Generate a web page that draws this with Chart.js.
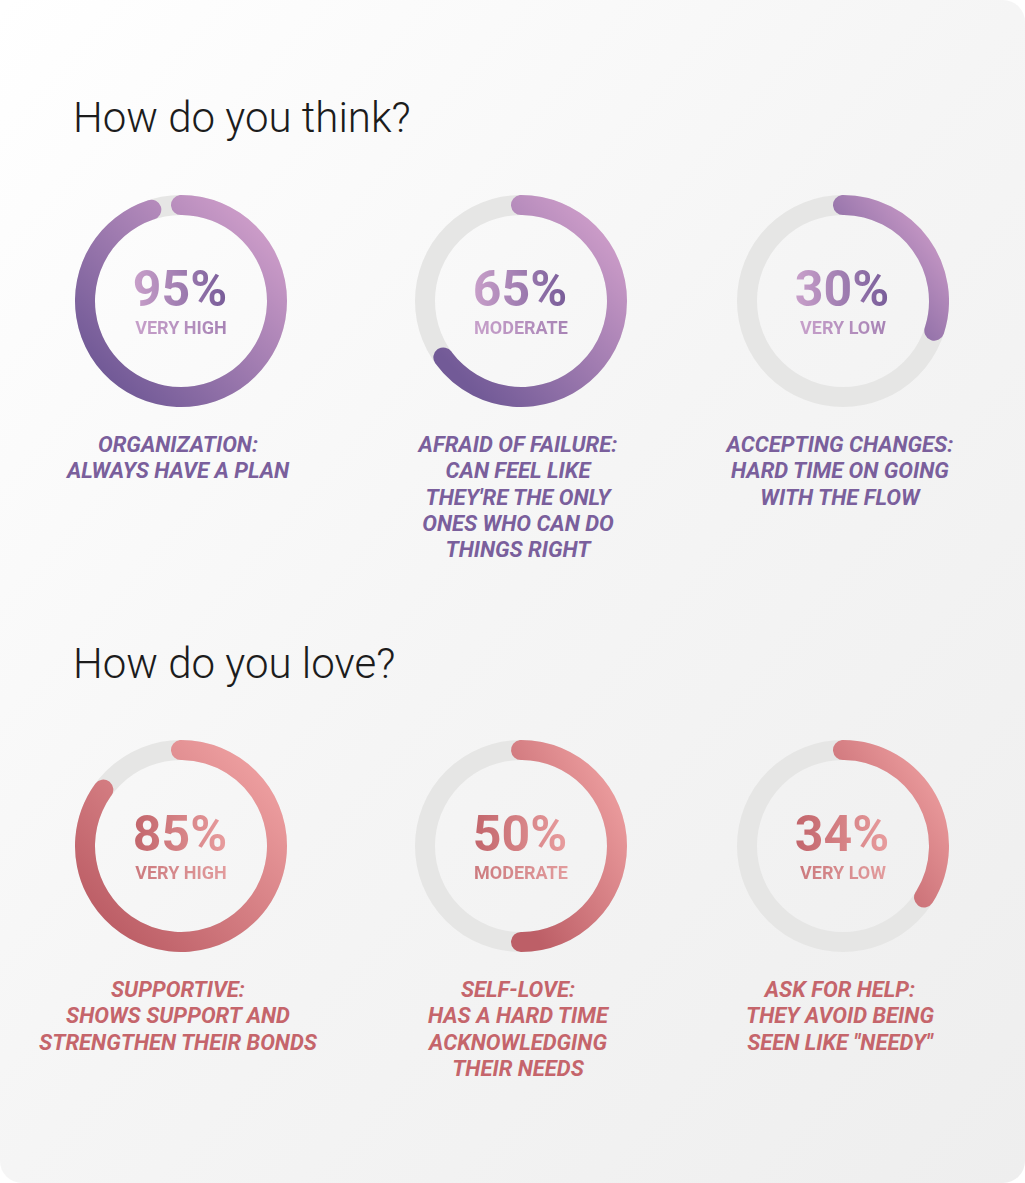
<!DOCTYPE html>
<html><head><meta charset="utf-8">
<script src="https://cdn.jsdelivr.net/npm/chart.js@4.4.1/dist/chart.umd.min.js"></script>
<style>
html,body{margin:0;padding:0;background:#ffffff;}
#card{position:absolute;left:0;top:0;width:1025px;height:1183px;border-radius:22px;overflow:hidden;
  background:linear-gradient(to bottom right,#ffffff 0%,#f5f5f5 50%,#eeeeee 100%);
  font-family:Roboto,"Noto Sans",sans-serif;}
.title{position:absolute;left:73px;font-weight:300;font-size:42px;line-height:50px;color:#1c1c1c;white-space:nowrap;}
.chartbox{position:absolute;width:212px;height:212px;}
.chartbox canvas{display:block;}
.pct{position:absolute;width:240px;text-align:center;font-weight:700;font-size:50px;line-height:50px;white-space:nowrap;}
.lvl{position:absolute;width:240px;text-align:center;font-weight:700;font-size:18px;line-height:18px;white-space:nowrap;}
.cap{position:absolute;width:340px;text-align:center;font-weight:700;font-style:italic;font-size:22px;line-height:26.25px;white-space:nowrap;}
.grad{display:inline-block;-webkit-background-clip:text;background-clip:text;color:transparent;}
</style>
</head>
<body>
<div id="card"></div>
<script>
// ---- data ----
const sectionTitles = ["How do you think?", "How do you love?"];
const values = [95, 65, 30, 85, 50, 34];
const levelLabels = ["VERY HIGH", "MODERATE", "VERY LOW", "VERY HIGH", "MODERATE", "VERY LOW"];
const captions = [
  ["ORGANIZATION:", "ALWAYS HAVE A PLAN"],
  ["AFRAID OF FAILURE:", "CAN FEEL LIKE", "THEY'RE THE ONLY", "ONES WHO CAN DO", "THINGS RIGHT"],
  ["ACCEPTING CHANGES:", "HARD TIME ON GOING", "WITH THE FLOW"],
  ["SUPPORTIVE:", "SHOWS SUPPORT AND", "STRENGTHEN THEIR BONDS"],
  ["SELF-LOVE:", "HAS A HARD TIME", "ACKNOWLEDGING", "THEIR NEEDS"],
  ["ASK FOR HELP:", "THEY AVOID BEING", "SEEN LIKE \"NEEDY\""]
];
const sectionOf = [0, 0, 0, 1, 1, 1];

// ---- styles / layout ----
const palettes = [
  {dark:'#725a97', light:'#dea9d2', caption:'#7a5f9c', numFrom:'#c9a0ca', numTo:'#785c99', lvlFrom:'#c7a0ca', lvlTo:'#a783b5'},
  {dark:'#bd5f67', light:'#f6aaaa', caption:'#c5656b', numFrom:'#c2656b', numTo:'#e89d9e', lvlFrom:'#cc7a7e', lvlTo:'#e29c9d'}
];
const trackColor = '#e6e6e5';
const colX = [181, 521, 843];
const rowY = [301, 846];
const titleTop = [92.6, 638.5];
const THICK = 20, SIZE = 212;

const card = document.getElementById('card');
sectionTitles.forEach((t, i) => {
  const d = document.createElement('div');
  d.className = 'title'; d.style.top = titleTop[i] + 'px'; d.textContent = t;
  card.appendChild(d);
});

const trackPlugin = {
  id: 'track',
  beforeDatasetsDraw(chart) {
    const el = chart.getDatasetMeta(0).data[0];
    if (!el) return;
    const {x, y, innerRadius, outerRadius} = el.getProps(['x','y','innerRadius','outerRadius'], true);
    const ctx = chart.ctx;
    ctx.save();
    ctx.beginPath();
    ctx.arc(x, y, (innerRadius + outerRadius) / 2, 0, Math.PI * 2);
    ctx.lineWidth = outerRadius - innerRadius;
    ctx.strokeStyle = trackColor;
    ctx.stroke();
    ctx.restore();
  }
};

function arcGradient(chart, v, capDeg, pal) {
  const a = chart.chartArea;
  if (!a) return pal.dark;
  if (chart.$grad) return chart.$grad;
  const cx = (a.left + a.right) / 2, cy = (a.top + a.bottom) / 2;
  const R = Math.min(a.right - a.left, a.bottom - a.top) / 2, r = R - THICK;
  let minX = 1e9, minY = 1e9, maxX = -1e9, maxY = -1e9;
  const s = -90 - capDeg, e = -90 + v * 3.6 + capDeg;
  for (let d = s; d <= e; d += 0.5) {
    const t = d * Math.PI / 180;
    [R, r].forEach(rr => {
      const px = cx + rr * Math.cos(t), py = cy + rr * Math.sin(t);
      minX = Math.min(minX, px); maxX = Math.max(maxX, px);
      minY = Math.min(minY, py); maxY = Math.max(maxY, py);
    });
  }
  const w = maxX - minX, h = maxY - minY;
  const gx = 1 / (2 * w), gy = -1 / (2 * h), g2 = gx * gx + gy * gy;
  const p0x = minX, p0y = maxY;
  const grad = chart.ctx.createLinearGradient(p0x, p0y, p0x + gx / g2, p0y + gy / g2);
  grad.addColorStop(0, pal.dark);
  grad.addColorStop(0.15, pal.dark);
  grad.addColorStop(1, pal.light);
  chart.$grad = grad;
  return grad;
}

values.forEach((v, i) => {
  const pal = palettes[sectionOf[i]];
  const cx = colX[i % 3], cy = rowY[sectionOf[i]];
  const box = document.createElement('div');
  box.className = 'chartbox';
  box.style.left = (cx - SIZE / 2) + 'px';
  box.style.top = (cy - SIZE / 2) + 'px';
  const cv = document.createElement('canvas');
  cv.width = SIZE; cv.height = SIZE;
  cv.style.width = SIZE + 'px'; cv.style.height = SIZE + 'px';
  box.appendChild(cv);
  card.appendChild(box);

  const rMid = SIZE / 2 - THICK / 2;
  const capDeg = (THICK / 2) / rMid * 180 / Math.PI;
  const arcDeg = v * 3.6 + 2 * capDeg;

  new Chart(cv, {
    type: 'doughnut',
    data: {
      labels: ['score', 'rest'],
      datasets: [{
        data: [v, 100 - v],
        backgroundColor: (c) => c.dataIndex === 0 ? arcGradient(c.chart, v, capDeg, pal) : 'rgba(0,0,0,0)',
        borderWidth: 0,
        borderRadius: (c) => c.dataIndex === 0 ? THICK / 2 : 0,
        offset: 0,
        hoverOffset: 0
      }]
    },
    options: {
      responsive: false,
      animation: false,
      events: [],
      cutout: SIZE / 2 - THICK,
      rotation: -capDeg,
      circumference: arcDeg * 100 / v,
      layout: {padding: 0},
      plugins: {legend: {display: false}, tooltip: {enabled: false}}
    },
    plugins: [trackPlugin]
  });

  const pct = document.createElement('div');
  pct.className = 'pct';
  pct.style.left = (cx - 121) + 'px';
  pct.style.top = (cy - 37) + 'px';
  const ps = document.createElement('span');
  ps.className = 'grad';
  ps.style.backgroundImage = `linear-gradient(to right, ${pal.numFrom}, ${pal.numTo})`;
  ps.textContent = v + '%';
  pct.appendChild(ps);
  card.appendChild(pct);

  const lvl = document.createElement('div');
  lvl.className = 'lvl';
  lvl.style.left = (cx - 120) + 'px';
  lvl.style.top = (cy + 17.6) + 'px';
  const ls = document.createElement('span');
  ls.className = 'grad';
  ls.style.backgroundImage = `linear-gradient(to right, ${pal.lvlFrom}, ${pal.lvlTo})`;
  ls.textContent = levelLabels[i];
  lvl.appendChild(ls);
  card.appendChild(lvl);

  const cap = document.createElement('div');
  cap.className = 'cap';
  cap.style.left = (cx - 173) + 'px';
  cap.style.top = (cy + 131) + 'px';
  cap.style.color = pal.caption;
  captions[i].forEach((line, k) => {
    if (k) cap.appendChild(document.createElement('br'));
    cap.appendChild(document.createTextNode(line));
  });
  card.appendChild(cap);
});
</script>
</body></html>
